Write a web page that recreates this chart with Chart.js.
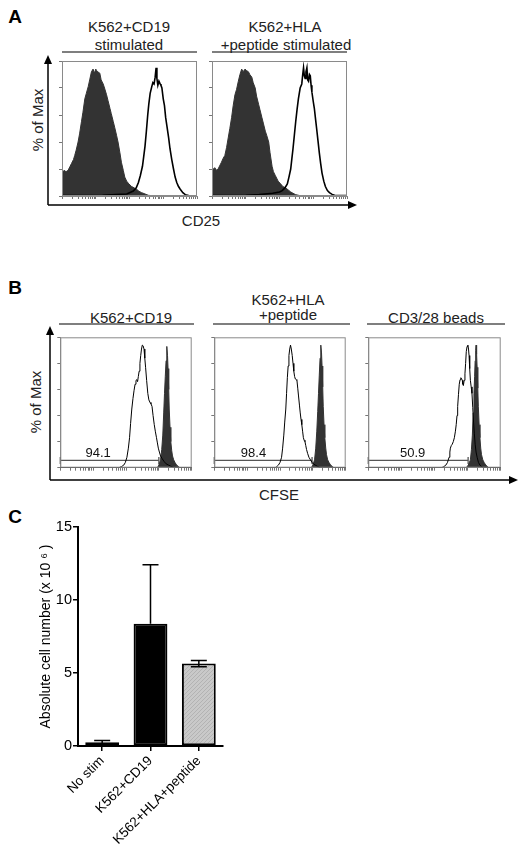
<!DOCTYPE html>
<html>
<head>
<meta charset="utf-8">
<script src="https://cdn.jsdelivr.net/npm/chart.js@4.4.1/dist/chart.umd.min.js"></script>
<style>
  body { margin: 0; background: #fff; }
  #page { position: relative; width: 520px; height: 854px; font-family: 'Liberation Sans', Arial, sans-serif; color: #222; }
  .t { position: absolute; transform: translate(-50%, -50%); font-size: 15px; line-height: 1; white-space: nowrap; }
  .rot { transform: translate(-50%, -50%) rotate(-90deg); }
  .lbl { font-weight: bold; font-size: 19px; color: #000; }
  .cv { position: absolute; }
  svg { position: absolute; left: 0; top: 0; }
</style>
</head>
<body>
<div id="page">
  <svg width="520" height="854">
    <g stroke="#555" stroke-width="1.5">
      <line x1="62" y1="52" x2="197" y2="52"/>
      <line x1="212" y1="52" x2="347" y2="52"/>
      <line x1="59" y1="324" x2="194" y2="324"/>
      <line x1="213" y1="324" x2="350" y2="324"/>
      <line x1="367" y1="324" x2="505" y2="324"/>
    </g>
    <g stroke="#000" stroke-width="1.5">
      <line x1="48" y1="205" x2="48" y2="62"/>
      <line x1="48" y1="205" x2="349" y2="205"/>
      <line x1="50" y1="480" x2="50" y2="333"/>
      <line x1="50" y1="480" x2="510" y2="480"/>
    </g>
    <g fill="#000">
      <polygon points="48,55 44,64 52,64"/>
      <polygon points="357,205 348,201 348,209"/>
      <polygon points="50,326 46,335 54,335"/>
      <polygon points="518,480 509,476 509,484"/>
    </g>
  </svg>

  <div class="t lbl" style="left:15px;top:16px">A</div>
  <div class="t" style="left:129px;top:26px">K562+CD19</div>
  <div class="t" style="left:129px;top:44px">stimulated</div>
  <div class="t" style="left:285px;top:26px">K562+HLA</div>
  <div class="t" style="left:286px;top:44px">+peptide stimulated</div>
  <div class="t rot" style="left:37px;top:120px">% of Max</div>
  <div class="t" style="left:201px;top:220px">CD25</div>

  <div class="t lbl" style="left:15px;top:287px">B</div>
  <div class="t" style="left:131px;top:317px">K562+CD19</div>
  <div class="t" style="left:288px;top:299px">K562+HLA</div>
  <div class="t" style="left:288px;top:314px">+peptide</div>
  <div class="t" style="left:436px;top:317px">CD3/28 beads</div>
  <div class="t rot" style="left:35px;top:402px">% of Max</div>
  <div class="t" style="left:279px;top:494px">CFSE</div>

  <div class="t lbl" style="left:15px;top:516px">C</div>

  <div class="cv" style="left:58px;top:60px;width:140px;height:140px"><canvas id="a1"></canvas></div>
  <div class="cv" style="left:208px;top:60px;width:140px;height:140px"><canvas id="a2"></canvas></div>
  <div class="cv" style="left:55px;top:332px;width:142px;height:141px"><canvas id="b1"></canvas></div>
  <div class="cv" style="left:209px;top:332px;width:142px;height:141px"><canvas id="b2"></canvas></div>
  <div class="cv" style="left:363px;top:332px;width:143px;height:141px"><canvas id="b3"></canvas></div>
  <div class="cv" style="left:0px;top:515px;width:240px;height:339px"><canvas id="c"></canvas></div>
</div>

<script>
Chart.defaults.font.family = "'Liberation Sans', Arial, sans-serif";

// Panel A: CD25 histograms, [x % of axis, % of Max]
const a1Open = [[0,0.3],[30,0.5],[40,1],[48,1.5],[52.8,3.7],[55,6],[56.6,10],[58,15],[59.6,22],[60.5,29],[61.5,37],[62.5,48],[63.5,60],[64.3,68],[65.3,76],[66.5,81],[67.3,84],[68.2,83],[69,88],[69.7,95],[70.3,87],[71,82],[71.8,85],[72.7,83],[73.3,82],[74,80],[75,72],[75.9,67],[76.8,58],[77.7,52],[79,43],[80,35],[81.3,27],[82.6,20],[83.8,14],[85,10],[86.3,7],[87.6,5],[89.5,2.5],[91.3,1],[93.8,0.3],[100,0.2]];
const a1Filled = [[0,17],[1.5,19],[3,18],[4.5,19],[6,22],[7,24],[8.5,27],[9.4,30],[10.5,34],[11.9,40],[13,46],[14.4,55],[15.5,62],[16.9,72],[18,76],[19.4,81],[20.5,86],[21.8,92],[23,94],[24,91],[25,94],[25.6,93],[26.5,92],[28,91],[29,86],[30.5,83],[31.5,80],[33,75],[34,71],[35.5,65],[36.5,61],[38,55],[39,51],[40.4,45],[41.5,40],[42.9,32],[44,25],[45.4,19],[46.5,14],[47.9,11],[49.5,9],[51.6,7],[53.5,6],[55.3,5],[57,3.5],[59,2.5],[61.5,1.5],[64,0.5],[69,0],[100,0]];
const a2Open = [[0,0.3],[25,0.5],[35,1],[45,2],[50,3],[52,4],[54,6],[55.8,9],[57,14],[58.3,20],[59.2,28],[60,35],[61,45],[62,55],[63,64],[64,72],[65.3,80],[66.5,83],[67.2,90],[67.8,95],[68.4,89],[69,87],[69.6,92],[70.3,95],[70.9,86],[71.5,85],[72.2,90],[72.8,89],[73.4,82],[74,77],[75,70],[75.8,65],[76.7,57],[77.5,50],[78.5,41],[79.5,32],[80.5,24],[81.5,17],[82.8,11],[84,7],[85.5,4],[87,2.5],[89,1.2],[90.8,0.5],[94.5,0.3],[100,0.3]];
const a2Filled = [[0,19],[2,21],[3.5,19],[4.5,20],[6,23],[7,25],[8.3,28],[9.5,30],[10.8,36],[12,43],[13.2,50],[14.5,58],[15.7,67],[17,75],[18.2,79],[19.5,85],[20.7,90],[22,94],[23,92],[24.5,94],[25.5,93],[27,92],[28,90],[29.5,88],[30.5,84],[32,80],[33,74],[34.5,68],[35.5,64],[37,58],[38,54],[39.5,48],[40.5,45],[42,40],[43,32],[44.5,22],[45.5,18],[47,15],[49,11],[50.8,9],[52.5,7],[54.5,6],[56.5,4.5],[58.3,3],[60,2],[62,1],[65,0.3],[67,0],[100,0]];

// Panel B: CFSE histograms
const b1Open = [[0,0],[44.6,0],[46.5,0.8],[48.3,2],[49.5,4],[50.7,8],[51.8,15],[52.7,23],[53.5,34],[54.4,45],[55.3,53],[56.1,59],[56.9,64],[57.6,67],[58.2,67.5],[58.8,66],[59.4,70],[60,74],[60.6,80],[61.2,86],[61.8,91],[62.4,94],[63,93.5],[63.7,91],[64.3,84],[64.9,77],[65.7,67],[66.6,57],[67.4,52],[68.3,50],[69,49],[69.8,47],[70.6,40],[71.5,33],[72.3,28],[73.2,23],[73.9,19],[74.6,15],[75.4,12],[76.3,9],[77.5,7],[78.8,5],[80.5,3],[82.4,2],[84.2,1],[86.1,0.5],[89.8,0],[100,0]];
const b1Filled = [[0,0],[73.9,0],[75,2],[76.3,6],[77.2,14],[78,25],[78.7,42],[79.3,57],[79.9,70],[80.5,82],[80.9,90],[81.2,93],[81.6,86],[82,76],[82.5,60],[82.9,45],[83.5,31],[84.1,20],[84.8,13],[85.4,9],[86.3,6],[87.3,4],[88.5,2],[89.8,1],[91,0],[100,0]];
const b2Open = [[0,0],[46.3,0],[47.5,0.8],[48.8,2],[50,4],[51.2,8],[52,15],[52.9,25],[53.6,35],[54.4,45],[55,57],[55.6,69],[56.2,78],[56.8,86],[57.4,91],[58,94],[58.6,91],[59.3,86],[59.9,80],[60.5,74],[61.1,70],[61.7,68],[62.3,67.5],[62.9,67],[63.5,61],[64.1,55],[64.8,48],[65.4,42],[66,37],[66.6,33],[67.2,28],[67.8,23],[68.4,21],[69,20],[69.6,17],[70.2,14],[71,11],[72,8],[73.2,6],[74.4,4],[75.6,2.8],[76.8,2],[78.5,1],[80.5,0],[100,0]];
const b2Filled = [[0,0],[73.9,0],[75,2],[76.3,6],[77.2,15],[78,28],[78.7,43],[79.3,57],[79.9,71],[80.5,84],[80.9,91],[81.2,94],[81.6,88],[82,78],[82.5,62],[82.9,47],[83.5,33],[84.1,23],[84.8,15],[85.4,10],[86.3,6],[87.3,4],[88.5,2],[89.8,1],[91,0],[100,0]];
const b3Open = [[0,0],[55.4,0],[57,0.8],[58.6,2],[59.8,4],[61,8],[61.6,12],[62,15],[62.7,17],[63.4,18],[64.2,20],[65,23],[65.8,28],[66.4,33],[67,40],[67.5,47],[68.1,56],[68.7,64],[69.3,67.5],[69.9,69],[70.5,68],[71,67],[71.4,64],[71.8,63],[72.4,67],[73,72],[73.5,80],[74,89],[74.6,93],[75.2,94],[75.7,91],[76.1,86],[76.6,76],[77.1,67],[77.7,62],[78.3,57],[78.9,46],[79.5,35],[80.1,26],[80.7,18],[81.4,12],[82.2,8],[83.2,4],[84.3,2],[85.5,0.8],[86.7,0],[100,0]];
const b3Filled = [[0,0],[74,0],[75.5,2],[77.1,6],[77.9,14],[78.6,25],[79.2,42],[79.8,57],[80.3,70],[80.7,82],[81.1,90],[81.4,94],[81.8,87],[82.2,77],[82.7,61],[83.1,47],[83.7,33],[84.3,23],[84.9,15],[85.5,10],[86.5,6],[87.5,4],[88.7,2],[89.9,1],[91,0],[100,0]];

// gates in panel B
const gateTexts = ['94.1', '98.4', '50.9'];
const gateEnds = [75, 74.4, 75.4];
const gateLabelX = [28.8, 29.8, 33.5];
const gateLevel = 5.6;

// Panel C: absolute cell number
const cLabels = ['No stim', 'K562+CD19', 'K562+HLA+peptide'];
const cValues = [0.25, 8.38, 5.65];
const cErrUp = [0.13, 4.04, 0.2];
const cErrDown = [0.13, 0, 0.22];
const cTicks = [0, 5, 10, 15];

// log decade ticks along the flow cytometry x axis
const logTicks = [];
for (let d = 0; d < 4; d++) {
  for (let k = 1; k < 10; k++) logTicks.push(d * 25 + 25 * Math.log10(k));
}
logTicks.push(100);

const boxBorder = {
  id: 'boxBorder',
  afterDraw(chart) {
    const { ctx, chartArea: a } = chart;
    ctx.save();
    ctx.strokeStyle = '#8a8a8a';
    ctx.lineWidth = 1;
    ctx.strokeRect(a.left + 0.5, a.top + 0.5, a.width - 1, a.height - 1);
    ctx.restore();
  }
};

const gateLabel = {
  id: 'gateLabel',
  afterDatasetsDraw(chart, args, o) {
    if (!o.text) return;
    const { ctx, scales: { x, y } } = chart;
    ctx.save();
    ctx.font = "13px 'Liberation Sans', Arial, sans-serif";
    ctx.fillStyle = '#111';
    ctx.textAlign = 'center';
    ctx.textBaseline = 'alphabetic';
    ctx.fillText(o.text, x.getPixelForValue(o.x), y.getPixelForValue(o.y));
    ctx.restore();
  }
};

function histogram(id, openPts, filledPts, lw, g) {
  const toXY = (pts) => pts.map((p) => ({ x: p[0], y: p[1] }));
  const datasets = [
    { data: toXY(openPts), borderColor: '#000', borderWidth: lw, fill: false },
    { data: toXY(filledPts), borderColor: '#333', backgroundColor: '#333', borderWidth: 1, fill: 'origin' },
  ];
  let labelOpts = {};
  if (g !== undefined) {
    datasets.push({
      data: [{ x: 0, y: gateLevel }, { x: gateEnds[g], y: gateLevel }],
      borderColor: '#555', borderWidth: 1.3, fill: false, clip: false,
      pointStyle: 'line', rotation: 90, pointRadius: 3.5, pointBorderColor: '#555', pointBorderWidth: 1.3,
    });
    labelOpts = { text: gateTexts[g], x: gateLabelX[g], y: 8.5 };
  }
  const tickGrid = { drawOnChartArea: false, tickLength: 3, color: '#777', lineWidth: 1 };
  new Chart(document.getElementById(id), {
    type: 'line',
    data: { datasets },
    options: {
      responsive: true,
      maintainAspectRatio: false,
      animation: false,
      layout: { padding: { top: 1, right: 1 } },
      elements: { point: { radius: 0 }, line: { tension: 0 } },
      plugins: { legend: { display: false }, tooltip: { enabled: false }, gateLabel: labelOpts },
      scales: {
        x: {
          type: 'linear', min: 0, max: 100,
          afterBuildTicks: (s) => { s.ticks = logTicks.map((v) => ({ value: v })); },
          afterFit: (s) => { s.height = 4; },
          ticks: { display: false },
          grid: tickGrid,
          border: { color: '#8a8a8a' },
        },
        y: {
          min: 0, max: 100,
          ticks: { display: false, stepSize: 20 },
          afterFit: (s) => { s.width = 4; },
          grid: tickGrid,
          border: { color: '#8a8a8a' },
        },
      },
    },
    plugins: [boxBorder, gateLabel],
  });
}

histogram('a1', a1Open, a1Filled, 1.6);
histogram('a2', a2Open, a2Filled, 1.6);
histogram('b1', b1Open, b1Filled, 1, 0);
histogram('b2', b2Open, b2Filled, 1, 1);
histogram('b3', b3Open, b3Filled, 1, 2);

function hatch() {
  const c = document.createElement('canvas');
  c.width = 4; c.height = 4;
  const g = c.getContext('2d');
  g.fillStyle = '#c9c9c9';
  g.fillRect(0, 0, 4, 4);
  g.fillStyle = '#b3b3b3';
  g.fillRect(0, 3, 1, 1); g.fillRect(1, 2, 1, 1); g.fillRect(2, 1, 1, 1); g.fillRect(3, 0, 1, 1);
  return g.createPattern(c, 'repeat');
}

const errorBars = {
  id: 'errorBars',
  afterDatasetsDraw(chart) {
    const { ctx } = chart;
    const y = chart.scales.y;
    const meta = chart.getDatasetMeta(0);
    ctx.save();
    ctx.strokeStyle = '#000';
    ctx.lineWidth = 1.5;
    meta.data.forEach((bar, i) => {
      const top = y.getPixelForValue(cValues[i] + cErrUp[i]);
      const bot = y.getPixelForValue(cValues[i] - cErrDown[i]);
      ctx.beginPath();
      ctx.moveTo(bar.x, bot);
      ctx.lineTo(bar.x, top);
      ctx.moveTo(bar.x - 8, top);
      ctx.lineTo(bar.x + 8, top);
      if (cErrDown[i] > 0) {
        ctx.moveTo(bar.x - 8, bot);
        ctx.lineTo(bar.x + 8, bot);
      }
      ctx.stroke();
    });
    ctx.restore();
  }
};

const grey = hatch();
new Chart(document.getElementById('c'), {
  type: 'bar',
  data: {
    labels: cLabels,
    datasets: [{
      data: cValues,
      backgroundColor: [grey, '#000', grey],
      borderColor: '#000',
      borderWidth: 2,
      borderSkipped: false,
      barPercentage: 0.7,
      categoryPercentage: 1,
    }],
  },
  options: {
    responsive: true,
    maintainAspectRatio: false,
    animation: false,
    layout: { padding: { top: 12, right: 17 } },
    plugins: { legend: { display: false }, tooltip: { enabled: false } },
    scales: {
      x: {
        afterFit: (s) => { s.height = 108; },
        grid: { drawOnChartArea: false, offset: false, tickLength: 5, color: '#000', lineWidth: 1.5 },
        border: { color: '#000', width: 2 },
        ticks: { minRotation: 45, maxRotation: 45, color: '#000', font: { size: 13.5 }, padding: 2 },
      },
      y: {
        min: 0, max: 15,
        afterBuildTicks: (s) => { s.ticks = cTicks.map((v) => ({ value: v })); },
        afterFit: (s) => { s.width = 78; },
        grid: { drawOnChartArea: false, tickLength: 5, color: '#000', lineWidth: 1.5 },
        border: { color: '#000', width: 2 },
        ticks: { color: '#000', font: { size: 14.5 }, padding: 1 },
        title: {
          display: true,
          text: 'Absolute cell number (x 10 \u2076 )',
          color: '#000',
          font: { size: 14 },
          padding: { top: 38, bottom: 0 },
        },
      },
    },
  },
  plugins: [errorBars],
});
</script>
</body>
</html>
